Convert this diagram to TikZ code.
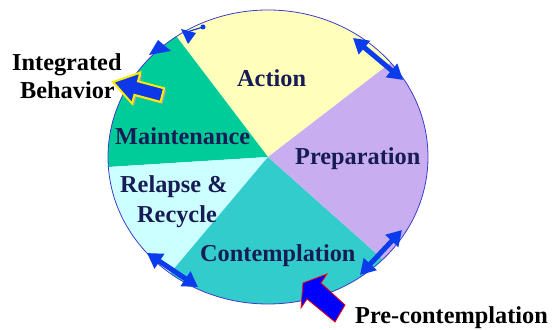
\documentclass[tikz,border=0pt]{standalone}
\usepackage{fontspec}
\setmainfont{Liberation Serif}
\usetikzlibrary{arrows.meta,calc}
\definecolor{cAction}{RGB}{255,255,187}
\definecolor{cPrep}{RGB}{200,174,240}
\definecolor{cCont}{RGB}{51,204,204}
\definecolor{cRelapse}{RGB}{204,255,255}
\definecolor{cMaint}{RGB}{0,204,153}
\definecolor{cRim}{RGB}{60,60,200}
\definecolor{cNavy}{RGB}{24,28,84}
\definecolor{cArrow}{RGB}{10,60,235}
\definecolor{cBlock}{RGB}{12,56,232}
\tikzset{
  stagelabel/.style={inner sep=0pt, anchor=base west, text=cNavy, font=\rmfamily\bfseries\fontsize{24.3}{26}\selectfont},
  outlabel/.style={inner sep=0pt, anchor=base west, text=black, font=\rmfamily\bfseries\fontsize{24.3}{26}\selectfont},
  cyclearrow/.style={draw=cArrow, line width=5pt, {Triangle[length=15pt,width=17pt]}-{Triangle[length=15pt,width=17pt]}},
}
\begin{document}
\begin{tikzpicture}[x=1pt,y=1pt]
\useasboundingbox (0,0) rectangle (553,329);
\coordinate (C) at (268,172);
\def\rx{160}\def\ry{147}
% wedges
\fill[cAction] (C) -- ($(C)+(39.9:\rx pt and \ry pt)$) arc[start angle=39.9,end angle=124.9,x radius=\rx,y radius=\ry] -- cycle;
\fill[cMaint] (C) -- ($(C)+(124.9:\rx pt and \ry pt)$) arc[start angle=124.9,end angle=183.9,x radius=\rx,y radius=\ry] -- cycle;
\fill[cRelapse] (C) -- ($(C)+(183.9:\rx pt and \ry pt)$) arc[start angle=183.9,end angle=232.3,x radius=\rx,y radius=\ry] -- cycle;
\fill[cCont] (C) -- ($(C)+(232.3:\rx pt and \ry pt)$) arc[start angle=232.3,end angle=315.9,x radius=\rx,y radius=\ry] -- cycle;
\fill[cPrep] (C) -- ($(C)+(-44.1:\rx pt and \ry pt)$) arc[start angle=-44.1,end angle=39.9,x radius=\rx,y radius=\ry] -- cycle;
\draw[cRim, line width=0.8pt] (C) ellipse[x radius=\rx, y radius=\ry];
% stage labels
\node[stagelabel] (action) at (237,242) {Action};
\node[stagelabel] (maint) at (115,184) {Maintenance};
\node[stagelabel] (prep) at (295,164) {Preparation};
\node[stagelabel] (relapse) at (120,136) {Relapse \&};
\node[stagelabel] (recycle) at (137,106) {Recycle};
\node[stagelabel] (contemp) at (200,67) {Contemplation};
% outside labels
\node[outlabel] (integ) at (12,258) {Integrated};
\node[outlabel] (behav) at (20,230) {Behavior};
\node[outlabel] (precont) at (355,5.5) {Pre-contemplation};
% cycle arrows
\coordinate (a1s) at (353,291); \coordinate (a1e) at (403,249);
\coordinate (a2s) at (402,99);  \coordinate (a2e) at (360,54);
\coordinate (a3s) at (147,76);  \coordinate (a3e) at (198,42);
\draw[cyclearrow] (a1s) -- (a1e);
\draw[cyclearrow] (a2s) -- (a2e);
\draw[cyclearrow] (a3s) -- (a3e);
% top-left arrow heads
\coordinate (dot) at (203,302);
\fill[cArrow] (149,274) -- (158,289) -- (171,278) -- cycle;
\fill[cArrow] (181,300) -- (196,296) -- (188,285) -- cycle;
\draw[cArrow, line width=1.2pt] (188.5,297.5) -- (dot);
\fill[cArrow] (dot) circle[radius=2.5];
% Integrated behavior block arrow
\fill[gray!70] ($(113,247)+(2,-2)$) -- ($(140.3,256.4)+(2,-2)$) -- ($(138.0,247.7)+(2,-2)$) -- ($(164.1,240.7)+(2,-2)$) -- ($(160.5,227.1)+(2,-2)$) -- ($(134.4,234.1)+(2,-2)$) -- ($(132.1,225.4)+(2,-2)$) -- cycle;
\filldraw[fill=cBlock, draw=yellow!95!orange, line width=2pt, line join=miter] (113,247) -- (140.3,256.4) -- (138.0,247.7) -- (164.1,240.7) -- (160.5,227.1) -- (134.4,234.1) -- (132.1,225.4) -- cycle;
% Pre-contemplation block arrow
\filldraw[fill=blue, draw=red, line width=0.8pt] (303,46) -- (327,55) -- (321,46) -- (345,24) -- (335,7) -- (307,30) -- (301,21) -- cycle;
\end{tikzpicture}
\end{document}
